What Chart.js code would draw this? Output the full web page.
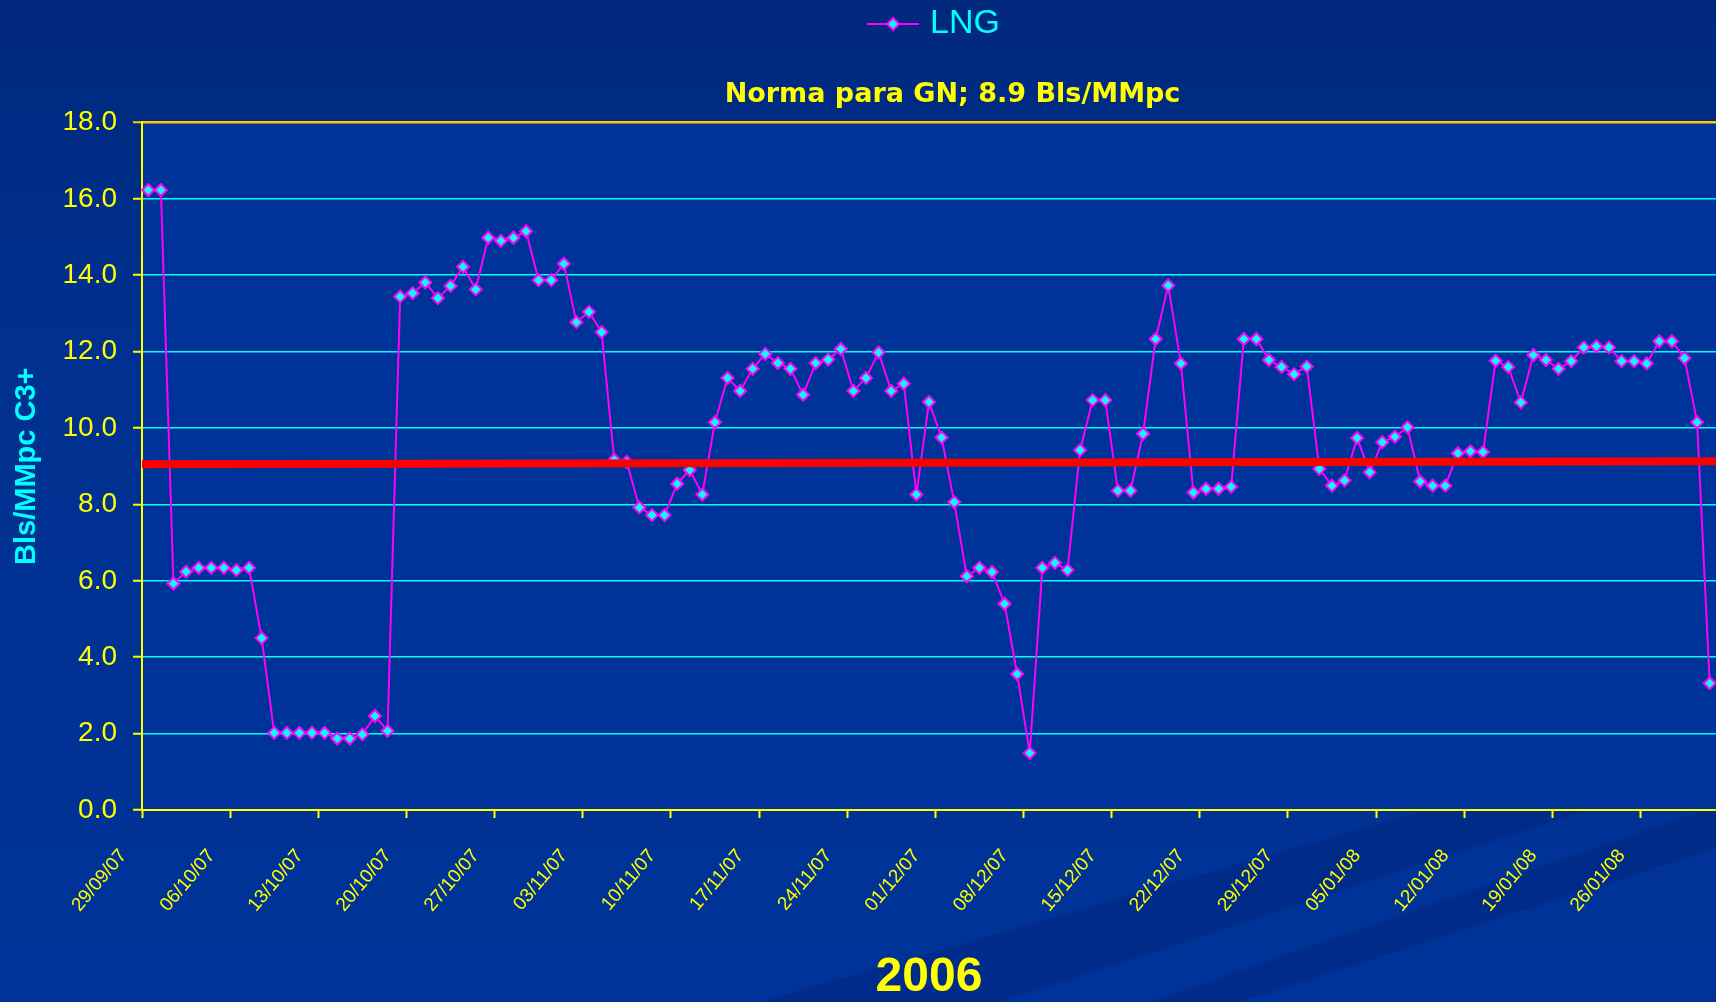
<!DOCTYPE html>
<html><head><meta charset="utf-8">
<script src="https://cdn.jsdelivr.net/npm/chart.js@4.4.0/dist/chart.umd.min.js"></script>
<style>html,body{margin:0;padding:0;background:#003399;overflow:hidden}canvas{display:block}</style>
</head><body>
<canvas id="c" width="1716" height="1002"></canvas>
<script>
const dates = [
 '29/09/07','30/09/07',
 '01/10/07','02/10/07','03/10/07','04/10/07','05/10/07','06/10/07','07/10/07','08/10/07','09/10/07','10/10/07',
 '11/10/07','12/10/07','13/10/07','14/10/07','15/10/07','16/10/07','17/10/07','18/10/07','19/10/07','20/10/07',
 '21/10/07','22/10/07','23/10/07','24/10/07','25/10/07','26/10/07','27/10/07','28/10/07','29/10/07','30/10/07','31/10/07',
 '01/11/07','02/11/07','03/11/07','04/11/07','05/11/07','06/11/07','07/11/07','08/11/07','09/11/07','10/11/07',
 '11/11/07','12/11/07','13/11/07','14/11/07','15/11/07','16/11/07','17/11/07','18/11/07','19/11/07','20/11/07',
 '21/11/07','22/11/07','23/11/07','24/11/07','25/11/07','26/11/07','27/11/07','28/11/07','29/11/07','30/11/07',
 '01/12/07','02/12/07','03/12/07','04/12/07','05/12/07','06/12/07','07/12/07','08/12/07','09/12/07','10/12/07',
 '11/12/07','12/12/07','13/12/07','14/12/07','15/12/07','16/12/07','17/12/07','18/12/07','19/12/07','20/12/07',
 '21/12/07','22/12/07','23/12/07','24/12/07','25/12/07','26/12/07','27/12/07','28/12/07','29/12/07','30/12/07','31/12/07',
 '01/01/08','02/01/08','03/01/08','04/01/08','05/01/08','06/01/08','07/01/08','08/01/08','09/01/08','10/01/08',
 '11/01/08','12/01/08','13/01/08','14/01/08','15/01/08','16/01/08','17/01/08','18/01/08','19/01/08','20/01/08',
 '21/01/08','22/01/08','23/01/08','24/01/08','25/01/08','26/01/08','27/01/08','28/01/08','29/01/08','30/01/08','31/01/08'
];
const lngValues = [
 16.23,16.23,5.93,6.24,6.34,6.34,6.34,6.28,6.34,4.50,
 2.02,2.02,2.02,2.02,2.02,1.87,1.87,1.98,2.46,2.07,
 13.44,13.53,13.81,13.40,13.72,14.22,13.63,14.98,14.90,14.98,
 15.15,13.87,13.87,14.30,12.77,13.04,12.51,9.17,9.11,7.92,
 7.72,7.72,8.54,8.90,8.26,10.15,11.31,10.97,11.55,11.94,
 11.70,11.55,10.87,11.70,11.79,12.07,10.97,11.31,11.98,10.97,
 11.16,8.26,10.68,9.75,8.06,6.12,6.34,6.23,5.40,3.56,
 1.49,6.34,6.47,6.28,9.42,10.73,10.73,8.36,8.36,9.85,
 12.33,13.73,11.69,8.31,8.41,8.41,8.46,12.33,12.33,11.78,
 11.60,11.41,11.61,8.93,8.49,8.63,9.74,8.84,9.63,9.77,
 10.02,8.60,8.49,8.49,9.34,9.39,9.37,11.76,11.60,10.67,
 11.91,11.78,11.55,11.75,12.11,12.14,12.11,11.75,11.75,11.69,
 12.27,12.27,11.83,10.15,3.32
];
const normLine = [9.05, 9.13];
const seriesName = 'LNG';
const chartTitle = 'Norma para GN; 8.9 Bls/MMpc';
const yAxisTitle = 'Bls/MMpc C3+';
const xAxisTitle = '2006';
const tickEvery = 7;

// legend symbol: line with diamond
const legendImg = document.createElement('canvas');
legendImg.width = 52; legendImg.height = 16;
(function(){
  const g = legendImg.getContext('2d');
  g.strokeStyle = '#FF00FF'; g.lineWidth = 2;
  g.beginPath(); g.moveTo(0,8); g.lineTo(52,8); g.stroke();
  g.beginPath(); g.moveTo(26,2); g.lineTo(32,8); g.lineTo(26,14); g.lineTo(20,8); g.closePath();
  g.fillStyle = '#00FFFF'; g.fill(); g.stroke();
})();

const bgPlugin = {
  id: 'bg',
  beforeDraw(chart) {
    const {ctx, width, height, chartArea} = chart;
    ctx.save();
    const g = ctx.createLinearGradient(0, 0, 0, height);
    g.addColorStop(0, '#00287D');
    g.addColorStop(0.35, '#003190');
    g.addColorStop(1, '#003399');
    ctx.fillStyle = g;
    ctx.fillRect(0, 0, width, height);
    ctx.fillStyle = '#003399';
    ctx.fillRect(chartArea.left, chartArea.top, chartArea.right - chartArea.left, chartArea.bottom - chartArea.top);
    // decorative darker bands below the axis
    ctx.beginPath();
    ctx.rect(0, chartArea.bottom, width, height - chartArea.bottom);
    ctx.clip();
    ctx.fillStyle = 'rgba(0,20,90,0.22)';
    ctx.beginPath();
    ctx.moveTo(760, 1002); ctx.lineTo(1440, 806); ctx.lineTo(1600, 806); ctx.lineTo(1000, 1002); ctx.closePath(); ctx.fill();
    ctx.beginPath();
    ctx.moveTo(1150, 1002); ctx.lineTo(1716, 806); ctx.lineTo(1716, 848); ctx.lineTo(1240, 1002); ctx.closePath(); ctx.fill();
    ctx.restore();
  }
};

const shiftPlugin = {
  id: 'shiftBoxes',
  afterLayout(chart) {
    const dl = 75, dt = 91;
    if (chart.legend) { chart.legend.left += dl; chart.legend.right += dl; }
    if (chart.titleBlock) { chart.titleBlock.left += dt; chart.titleBlock.right += dt; }
  }
};

new Chart(document.getElementById('c'), {
  type: 'line',
  data: {
    labels: dates,
    datasets: [
      {
        label: seriesName, data: lngValues, xAxisID: 'x', yAxisID: 'y',
        borderColor: '#FF00FF', borderWidth: 2, tension: 0,
        pointStyle: 'rectRot', pointRadius: 6, pointBorderWidth: 2,
        pointBackgroundColor: '#00FFFF', pointBorderColor: '#FF00FF', order: 1
      },
      {
        label: 'Norma', data: [{x: 0, y: normLine[0]}, {x: 1, y: normLine[1]}],
        xAxisID: 'x2', yAxisID: 'y',
        borderColor: '#FF0000', borderWidth: 8, borderCapStyle: 'round',
        pointRadius: 0, order: 0
      }
    ]
  },
  options: {
    responsive: false, animation: false, devicePixelRatio: 1,
    layout: { autoPadding: false, padding: { left: 0, right: -7, top: 0, bottom: 0 } },
    plugins: {
      legend: {
        display: true, position: 'top', weight: 3000,
        labels: {
          filter: item => item.text === seriesName,
          usePointStyle: true, pointStyleWidth: 40, boxHeight: 16,
          color: '#00FFFF', padding: 7,
          font: { family: 'Liberation Sans', size: 34 },
          generateLabels: chart => [{
            text: seriesName, pointStyle: legendImg, fillStyle: '#00FFFF', strokeStyle: '#FF00FF',
            lineWidth: 0, hidden: false, datasetIndex: 0, fontColor: '#00FFFF'
          }]
        }
      },
      title: {
        display: true, text: chartTitle, color: '#FFFF00',
        font: { family: 'DejaVu Sans', size: 27, weight: 'bold', lineHeight: 1.2 },
        padding: { top: 28, bottom: 11 }
      },
      tooltip: { enabled: false }
    },
    scales: {
      x: {
        type: 'category', offset: true,
        afterFit: s => { s.height = 192; s.paddingLeft = 0; s.paddingRight = 0; },
        grid: {
          offset: true, drawOnChartArea: false, tickLength: 8, tickWidth: 2,
          tickColor: c => (c.index !== undefined && c.index % tickEvery === 0) ? '#FFFF00' : 'rgba(0,0,0,0)'
        },
        border: { color: '#FFFF00', width: 2 },
        ticks: {
          autoSkip: false, maxRotation: 50, minRotation: 50, color: '#FFFF00',
          font: { family: 'Liberation Sans', size: 19 }, padding: 27, labelOffset: -25,
          callback: function(v, i) { return i % tickEvery === 0 ? this.getLabelForValue(v) : ''; }
        },
        title: {
          display: true, text: xAxisTitle, color: '#FFFF00',
          font: { family: 'Liberation Sans', size: 48, weight: 'bold', lineHeight: 1 },
          padding: { top: 40, bottom: 0 }
        }
      },
      x2: { type: 'linear', display: false, min: 0, max: 1 },
      y: {
        min: 0, max: 18,
        afterFit: s => { s.width = 142; },
        ticks: {
          stepSize: 2, color: '#FFFF00', padding: 16,
          font: { family: 'Liberation Sans', size: 28 },
          callback: v => Number(v).toFixed(1)
        },
        grid: {
          color: c => !c.tick ? '#00FFFF' : (c.tick.value === 18 ? '#FFCC00' : (c.tick.value === 0 ? 'rgba(0,0,0,0)' : '#00FFFF')),
          lineWidth: c => (c.tick && c.tick.value === 18) ? 2.5 : 1.5,
          tickColor: c => (c.tick && c.tick.value === 18) ? '#FFCC00' : '#FFFF00',
          tickLength: 9, tickWidth: 2
        },
        border: { color: '#FFFF00', width: 2 },
        title: {
          display: true, text: yAxisTitle, color: '#00FFFF',
          font: { family: 'Liberation Sans', size: 29, weight: 'bold', lineHeight: 1.2 },
          padding: { top: 10, bottom: 18 }
        }
      }
    }
  },
  plugins: [bgPlugin, shiftPlugin]
});
</script>
</body></html>
